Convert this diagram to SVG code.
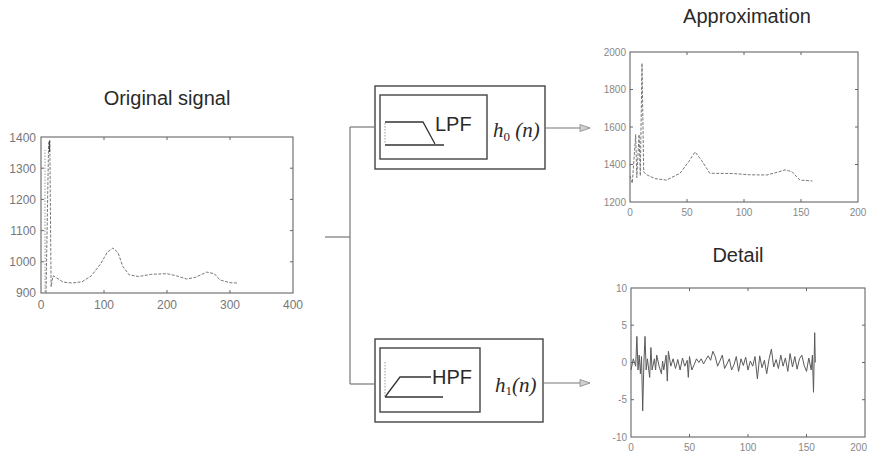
<svg xmlns="http://www.w3.org/2000/svg" width="869" height="454" viewBox="0 0 869 454">
<defs>
<style>
.title{font-family:"Liberation Sans",Arial,sans-serif;font-size:20px;fill:#2a2a2a}
.tick{font-family:"Liberation Sans",Arial,sans-serif;font-size:12px;fill:#777}
.tks{font-family:"Liberation Sans",Arial,sans-serif;font-size:10px;fill:#888}
.axis{fill:none;stroke:#666;stroke-width:1.1}
.tk{stroke:#666;stroke-width:1}
.sig{fill:none;stroke:#777;stroke-width:1;stroke-dasharray:3 1.5}
.box{fill:#fff;stroke:#444;stroke-width:1.4}
.sym{fill:none;stroke:#333;stroke-width:1.3}
.dot{fill:none;stroke:#999;stroke-width:1;stroke-dasharray:1.5 1.5}
.lbl{font-family:"Liberation Sans",Arial,sans-serif;font-size:20px;fill:#2a2a2a}
.math{font-family:"Liberation Serif","Times New Roman",serif;font-style:italic;font-size:21px;fill:#2a2a2a}
.wire{fill:none;stroke:#777;stroke-width:1.2}
</style>
<marker id="arr" markerWidth="12" markerHeight="10" refX="11" refY="5" orient="auto" markerUnits="userSpaceOnUse">
<path d="M1,1.5 L11,5 L1,8.5 Z" fill="#d0d0d0" stroke="#999" stroke-width="1"/>
</marker>
</defs>
<rect width="869" height="454" fill="#fff"/>

<g id="original-signal">
<text class="title" x="167" y="105" text-anchor="middle">Original signal</text>
<rect class="axis" x="41" y="137" width="252" height="156"/>
<g class="tk">
<path d="M41,168.2h3M41,199.4h3M41,230.6h3M41,261.8h3M293,168.2h-3M293,199.4h-3M293,230.6h-3M293,261.8h-3M104,293v-3M167,293v-3M230,293v-3M104,137v3M167,137v3M230,137v3"/>
</g>
<g class="tick" text-anchor="end">
<text x="36" y="142">1400</text>
<text x="36" y="173">1300</text>
<text x="36" y="204">1200</text>
<text x="36" y="235">1100</text>
<text x="36" y="266">1000</text>
<text x="36" y="297">900</text>
</g>
<g class="tick" text-anchor="middle">
<text x="41" y="309">0</text>
<text x="104" y="309">100</text>
<text x="167" y="309">200</text>
<text x="230" y="309">300</text>
<text x="293" y="309">400</text>
</g>
<path class="dot" d="M45,292 L45,150"/>
<path class="sig" d="M46,293 L48.6,143.2 L49.8,140.1 L51.1,286.8 L53,275.8 L56.8,278 L63.1,282.1 L71.9,283 L82,281.8 L91.4,275.8 L100.9,263.4 L107.2,252.4 L112.8,248.1 L117.9,252.4 L122.9,266.5 L129.2,274.9 L138.7,276.5 L151.3,274.3 L167,273.7 L176.5,275.8 L186.5,279 L195.4,277.4 L206.7,272.1 L214.3,273.7 L219.9,279.9 L230,282.7 L236.9,283"/>
<path d="M49.5,141 L49.5,152" stroke="#444" stroke-width="1.2"/>
</g>

<g id="lpf">
<rect class="box" x="375" y="86" width="170" height="83"/>
<rect class="box" x="380" y="95" width="107" height="64"/>
<path class="sym" d="M385,122 L423,122 L435,144 M385,145 L444,145"/>
<path class="dot" d="M385,123 L385,144"/>
<text class="lbl" x="435" y="131">LPF</text>
<text class="math" x="493" y="137">h<tspan font-size="13" font-style="normal" dy="4">0</tspan><tspan dy="-4"> (n)</tspan></text>
</g>

<g id="hpf">
<rect class="box" x="375" y="339" width="168" height="83"/>
<rect class="box" x="380" y="348" width="100" height="64"/>
<path class="sym" d="M385,397 L400,377 L431,377 M385,397 L443,397"/>
<path class="dot" d="M385,362 L385,396"/>
<text class="lbl" x="432" y="384">HPF</text>
<text class="math" x="495" y="392">h<tspan font-size="13" font-style="normal" dy="3">1</tspan><tspan dy="-3">(n)</tspan></text>
</g>

<g id="approximation">
<text class="title" x="747" y="23" text-anchor="middle">Approximation</text>
<rect class="axis" x="630" y="52" width="228" height="150"/>
<g class="tk">
<path d="M630,89.5h3M630,127h3M630,164.5h3M858,89.5h-3M858,127h-3M858,164.5h-3M687,202v-3M744,202v-3M801,202v-3M687,52v3M744,52v3M801,52v3"/>
</g>
<g class="tks" text-anchor="end">
<text x="626" y="56">2000</text>
<text x="626" y="93">1800</text>
<text x="626" y="131">1600</text>
<text x="626" y="168">1400</text>
<text x="626" y="206">1200</text>
</g>
<g class="tks" text-anchor="middle">
<text x="630" y="216">0</text>
<text x="687" y="216">50</text>
<text x="744" y="216">100</text>
<text x="801" y="216">150</text>
<text x="858" y="216">200</text>
</g>
<path class="sig" d="M630,175.9 L632.3,183.3 L635.7,134.5 L636.8,177.6 L639.1,134.5 L640.3,175.8 L642,63.3 L643.7,172 L647.1,175 L655.1,178.6 L666.5,180.1 L680.2,173.1 L689.3,160.8 L695,151.9 L701.8,160.8 L709.8,173.3 L732.6,173.5 L749.7,174.8 L766.8,175 L778.2,172 L785,169.9 L791.9,171.6 L799.9,180.1 L812.4,181"/>
</g>

<g id="detail">
<text class="title" x="738" y="262" text-anchor="middle">Detail</text>
<rect class="axis" x="631" y="288" width="234" height="149"/>
<g class="tk">
<path d="M631,325.2h3M631,362.5h3M631,399.7h3M865,325.2h-3M865,362.5h-3M865,399.7h-3M689.5,437v-3M748,437v-3M806.5,437v-3M689.5,288v3M748,288v3M806.5,288v3"/>
</g>
<g class="tks" text-anchor="end">
<text x="627" y="292">10</text>
<text x="627" y="329">5</text>
<text x="627" y="366">0</text>
<text x="627" y="403">-5</text>
<text x="627" y="441">-10</text>
</g>
<g class="tks" text-anchor="middle">
<text x="631" y="451">0</text>
<text x="689.5" y="451">50</text>
<text x="748" y="451">100</text>
<text x="806.5" y="451">150</text>
<text x="867" y="451" text-anchor="end">200</text>
</g>
<path fill="none" stroke="#5a5a5a" stroke-width="1" d="M631,370 L633.3,358.8 L635.7,366.2 L636.9,336.4 L638,370 L639.2,355.1 L640.4,373.7 L641.5,356.5 L642.7,410.9 L643.9,362.5 L645,336.4 L646.2,370 L647.4,358.8 L649.7,377.4 L650.9,347.6 L652.1,370 L654.4,358.8 L655.6,370 L656.7,355.1 L659.1,366.2 L661.4,373.7 L662.6,361 L663.8,370 L666.1,355.1 L667.3,381.1 L668.4,351.3 L670.8,366.2 L673.1,358.8 L675.5,368.5 L677.8,359.5 L680.1,370 L682.5,358 L684.8,366.2 L687.2,360.3 L688.3,377.4 L689.5,356.5 L691.8,370 L694.2,364.7 L696.5,358.8 L698.9,362.5 L701.2,358.8 L703.5,364 L705.9,359.5 L708.2,355.8 L710.6,360.3 L712.9,351.3 L715.2,356.5 L717.6,366.2 L719.9,361 L722.3,355.1 L724.6,368.5 L726.9,364 L729.3,358.8 L731.6,370 L734,364.7 L736.3,356.5 L738.6,371.4 L741,358.8 L743.3,365.5 L745.7,357.3 L748,370 L750.3,361 L752.7,366.2 L755,356.5 L757.4,378.9 L759.7,355.8 L762,367.7 L764.4,360.3 L766.7,373.7 L769.1,358.8 L771.4,349.1 L773.7,367 L776.1,359.5 L778.4,368.5 L780.8,355.1 L783.1,366.2 L785.4,358 L787.8,371.4 L790.1,353.6 L792.5,367 L794.8,356.5 L797.1,369.2 L799.5,358.8 L801.8,355.1 L804.2,365.5 L806.5,371.4 L808.8,358 L811.2,370 L812.4,355.1 L813.5,392.3 L814.7,332.7 L815.3,362.5"/>
</g>

<g id="connectors">
<path class="wire" d="M325,237 L350,237"/>
<path class="wire" d="M350,127 L350,384"/>
<path class="wire" d="M350,127 L375,127"/>
<path class="wire" d="M350,384 L375,384"/>
<path class="wire" d="M545,128 L590,128" marker-end="url(#arr)"/>
<path class="wire" d="M543,383 L590,383" marker-end="url(#arr)"/>
</g>
</svg>
